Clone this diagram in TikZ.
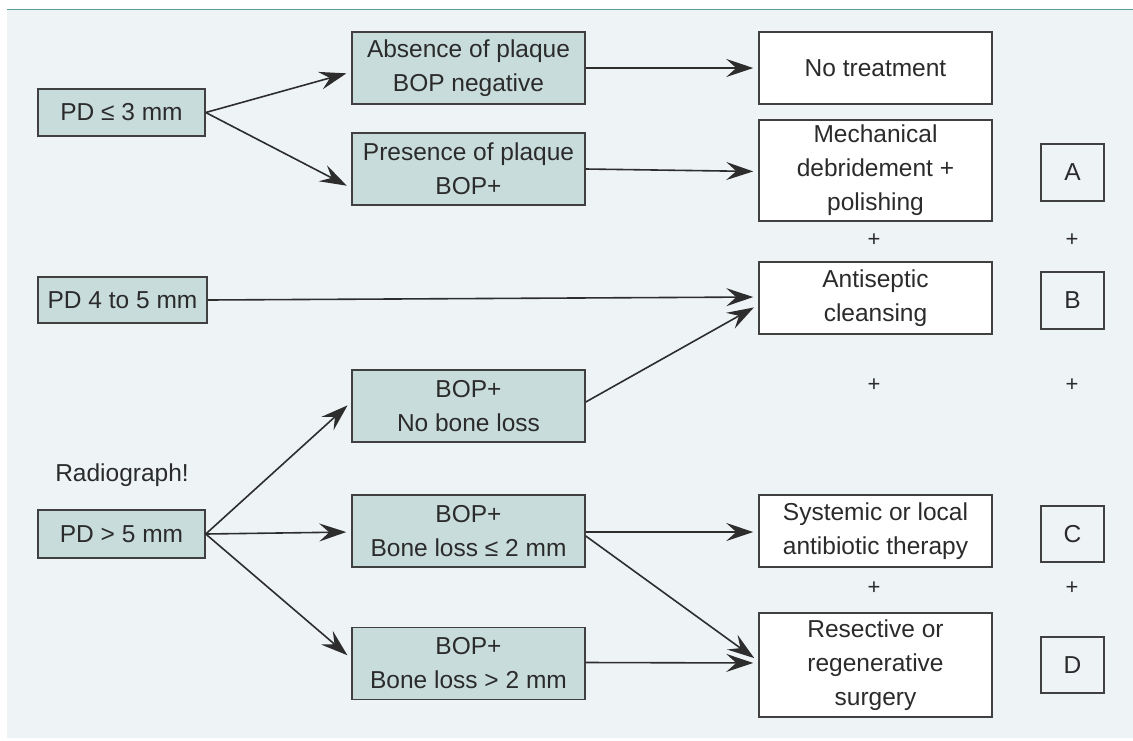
\documentclass[tikz,border=0pt]{standalone}
\usepackage{fontspec}
\setmainfont{Liberation Sans}
\usetikzlibrary{arrows.meta}
\definecolor{bgc}{HTML}{EEF3F6}
\definecolor{topc}{HTML}{5E9E9B}
\definecolor{boxc}{HTML}{C9DCDC}
\definecolor{edgec}{HTML}{404040}
\definecolor{txtc}{HTML}{2B2B2B}
\begin{document}
\begin{tikzpicture}[x=1pt,y=-1pt,
  every node/.style={font=\fontsize{24.5}{34}\selectfont, text=txtc},
  tealbox/.style={draw=edgec, line width=1.5pt, fill=boxc, align=center, inner sep=0pt},
  whitebox/.style={draw=edgec, line width=1.5pt, fill=white, align=center, inner sep=0pt},
  arr/.style={draw=edgec!70!black, line width=1.6pt, -{Stealth[length=27pt,width=18pt,inset=10pt]}, shorten >=5pt},
  plus/.style={font=\fontsize{22}{24}\selectfont}
]
\useasboundingbox (0,0) rectangle (1133,740);
\fill[white] (0,0) rectangle (1133,740);
\fill[bgc] (7,10) rectangle (1133,738);
\draw[topc, line width=1.8pt] (7,9.5) -- (1133,9.5);

% left column
\node[tealbox, minimum width=167pt, minimum height=47pt] (pd3) at (121.5,112.5) {PD ≤ 3 mm};
\node[tealbox, minimum width=169pt, minimum height=46pt] (pd45) at (122.5,300) {PD 4 to 5 mm};
\node (radio) at (122,475) {Radiograph!};
\node[tealbox, minimum width=167pt, minimum height=48pt] (pd5) at (121.5,534) {PD > 5 mm};

% middle column
\node[tealbox, minimum width=233pt, minimum height=72pt] (absence) at (468.5,68) {Absence of plaque\\BOP negative};
\node[tealbox, minimum width=233pt, minimum height=72pt] (presence) at (468.5,169) {Presence of plaque\\BOP+};
\node[tealbox, minimum width=233pt, minimum height=72pt] (nobone) at (468.5,406) {BOP+\\No bone loss};
\node[tealbox, minimum width=233pt, minimum height=72pt] (bl2) at (468.5,531) {BOP+\\Bone loss ≤ 2 mm};
\node[tealbox, minimum width=233pt, minimum height=72pt] (bl2b) at (468.5,663.5) {BOP+\\Bone loss > 2 mm};

% right column
\node[whitebox, minimum width=233pt, minimum height=72pt] (notreat) at (875.5,68) {No treatment};
\node[whitebox, minimum width=233pt, minimum height=101pt] (mech) at (875.5,170.5) {Mechanical\\debridement +\\polishing};
\node[whitebox, minimum width=233pt, minimum height=72pt] (anti) at (875.5,298) {Antiseptic\\cleansing};
\node[whitebox, minimum width=233pt, minimum height=72pt] (sys) at (875.5,531) {Systemic or local\\antibiotic therapy};
\node[whitebox, minimum width=233pt, minimum height=104pt] (res) at (875.5,665) {Resective or\\regenerative\\surgery};

% letters
\node[whitebox, fill=none, minimum width=63pt, minimum height=57pt] (A) at (1072.5,172.5) {A};
\node[whitebox, fill=none, minimum width=63pt, minimum height=57pt] (B) at (1072.5,300.5) {B};
\node[whitebox, fill=none, minimum width=63pt, minimum height=56pt] (C) at (1072.5,534) {C};
\node[whitebox, fill=none, minimum width=63pt, minimum height=56pt] (D) at (1072.5,665) {D};

% plus signs
\node[plus] (p1) at (874,240) {+};
\node[plus] (p1r) at (1072,240) {+};
\node[plus] (p2) at (874,385) {+};
\node[plus] (p2r) at (1072,385) {+};
\node[plus] (p3) at (874,588) {+};
\node[plus] (p3r) at (1072,588) {+};

% arrows
\draw[arr] (pd3.east) -- ([yshift=-4pt]absence.west);
\draw[arr] (pd3.east) -- ([yshift=-19pt]presence.west);
\draw[arr] (absence.east) -- (notreat.west);
\draw[arr] (presence.east) -- ([yshift=-1pt]mech.west);
\draw[arr] (pd45.east) -- ([yshift=1pt]anti.west);
\draw[arr] ([yshift=4pt]nobone.east) -- ([yshift=-7pt]anti.west);
\draw[arr] (pd5.east) -- ([yshift=4pt]nobone.west);
\draw[arr] (pd5.east) -- ([yshift=-1pt]bl2.west);
\draw[arr] (pd5.east) -- ([yshift=5pt]bl2b.west);
\draw[arr] ([yshift=-1pt]bl2.east) -- ([yshift=-1pt]sys.west);
\draw[arr] ([yshift=-5pt]bl2.east) -- ([yshift=4pt]res.west);
\draw[arr] ([yshift=1pt]bl2b.east) -- ([yshift=2pt]res.west);
\end{tikzpicture}
\end{document}
